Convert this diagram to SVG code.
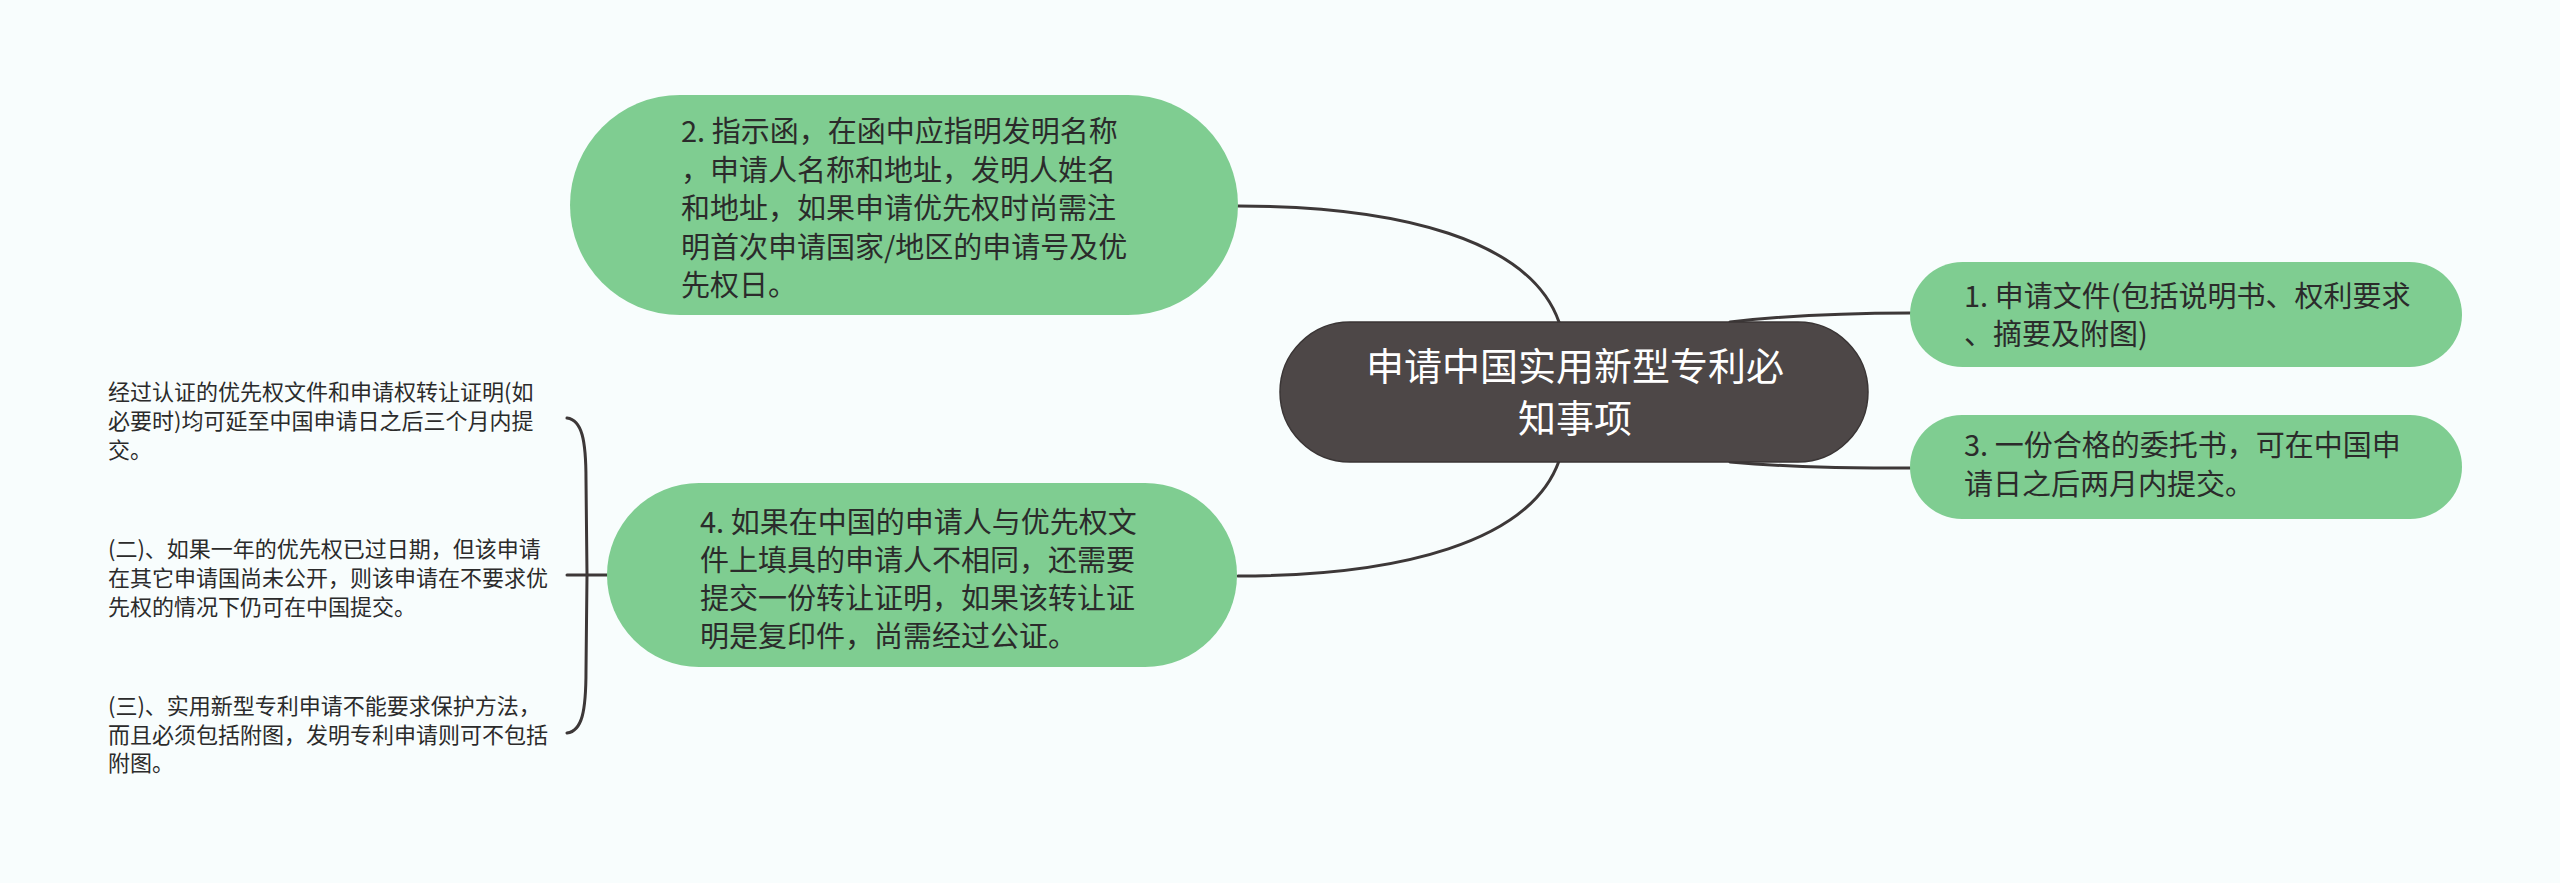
<svg xmlns="http://www.w3.org/2000/svg" width="2560" height="883" viewBox="0 0 2560 883">
<style>
.bg{fill:#f8fdfd}
.sub{fill:#7fcd91}
.root{fill:#4d4747;stroke:#3a3535;stroke-width:1.5}
.conn{fill:none;stroke:#3d3838;stroke-width:3;stroke-linecap:round}
.t{font-family:"Noto Sans CJK SC","Noto Sans",sans-serif;fill:#2b2b2b}
.m{font-size:29px}
.s{font-size:22px}
.c{font-size:38px;fill:#ffffff;text-anchor:middle}
</style>
<rect class="bg" x="0" y="0" width="2560" height="883"/>
<g id="connectors">
<path class="conn" d="M1238,206 C1400,206 1530,240 1559,322"/>
<path class="conn" d="M1238,576 C1400,576 1530,542 1559,461"/>
<path class="conn" d="M1730,322 C1800,314 1860,313 1910,313"/>
<path class="conn" d="M1730,462 C1800,468 1860,468 1910,468"/>
<path class="conn" d="M567,418 C582,420 586,440 586,480 L587,575 L586,670 C586,712 582,731 567,733"/>
<path class="conn" d="M567,575 L607,575"/>
</g>
<g id="root">
<rect class="root" x="1280" y="322" width="588" height="140" rx="70" ry="70"/>
<text class="t c" x="1575" y="380">申请中国实用新型专利必</text>
<text class="t c" x="1575" y="432">知事项</text>
</g>
<g id="node2">
<rect class="sub" x="570" y="95" width="668" height="220" rx="110" ry="110"/>
<text class="t m" x="681" y="142">2. 指示函，在函中应指明发明名称</text>
<text class="t m" x="681" y="180.5">，申请人名称和地址，发明人姓名</text>
<text class="t m" x="681" y="219">和地址，如果申请优先权时尚需注</text>
<text class="t m" x="681" y="257.5">明首次申请国家/地区的申请号及优</text>
<text class="t m" x="681" y="296">先权日。</text>
</g>
<g id="node1">
<rect class="sub" x="1910" y="262" width="552" height="105" rx="52.5" ry="52.5"/>
<text class="t m" x="1964" y="307">1. 申请文件(包括说明书、权利要求</text>
<text class="t m" x="1964" y="345">、摘要及附图)</text>
</g>
<g id="node3">
<rect class="sub" x="1910" y="415" width="552" height="104" rx="52" ry="52"/>
<text class="t m" x="1964" y="456">3. 一份合格的委托书，可在中国申</text>
<text class="t m" x="1964" y="495">请日之后两月内提交。</text>
</g>
<g id="node4">
<rect class="sub" x="607" y="483" width="630" height="184" rx="92" ry="92"/>
<text class="t m" x="700" y="533">4. 如果在中国的申请人与优先权文</text>
<text class="t m" x="700" y="571">件上填具的申请人不相同，还需要</text>
<text class="t m" x="700" y="609">提交一份转让证明，如果该转让证</text>
<text class="t m" x="700" y="647">明是复印件，尚需经过公证。</text>
</g>
<g id="leaf1">
<text class="t s" x="108" y="400">经过认证的优先权文件和申请权转让证明(如</text>
<text class="t s" x="108" y="429">必要时)均可延至中国申请日之后三个月内提</text>
<text class="t s" x="108" y="458">交。</text>
</g>
<g id="leaf2">
<text class="t s" x="108" y="557">(二)、如果一年的优先权已过日期，但该申请</text>
<text class="t s" x="108" y="586">在其它申请国尚未公开，则该申请在不要求优</text>
<text class="t s" x="108" y="615">先权的情况下仍可在中国提交。</text>
</g>
<g id="leaf3">
<text class="t s" x="108" y="714">(三)、实用新型专利申请不能要求保护方法，</text>
<text class="t s" x="108" y="743">而且必须包括附图，发明专利申请则可不包括</text>
<text class="t s" x="108" y="771">附图。</text>
</g>
</svg>
